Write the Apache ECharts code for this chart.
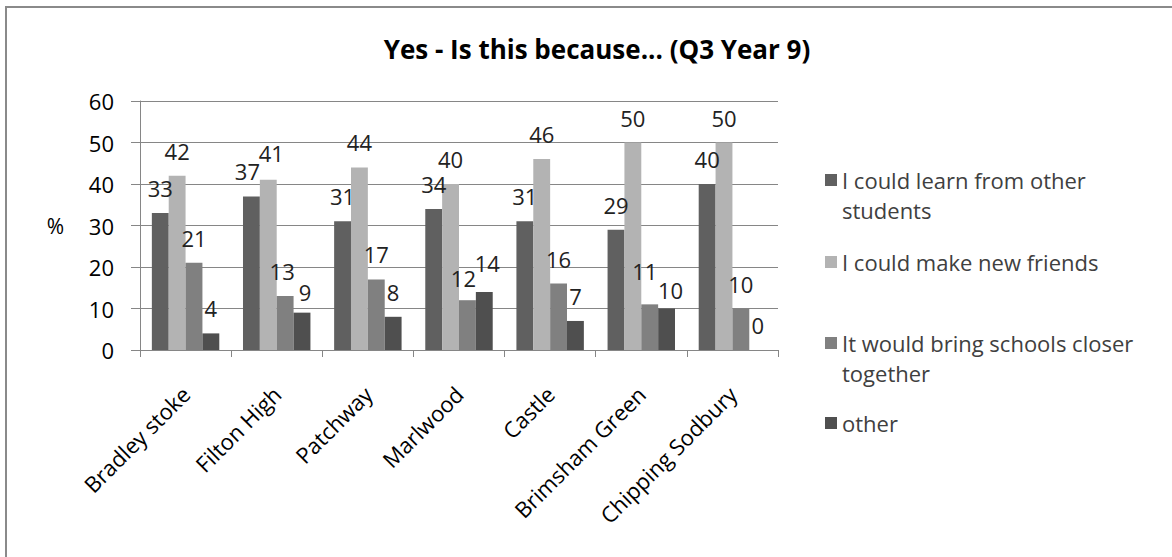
<!DOCTYPE html>
<html>
<head>
<meta charset="utf-8">
<script src="https://cdn.jsdelivr.net/npm/echarts@6/dist/echarts.min.js"></script>
<style>
  html, body { margin: 0; padding: 0; background: #fff; }
  #chart { width: 1172px; height: 557px; }
</style>
</head>
<body>
<div id="chart"></div>
<script>
// Yes - Is this because... (Q3 Year 9)
const schools = ["Bradley stoke", "Filton High", "Patchway", "Marlwood", "Castle", "Brimsham Green", "Chipping Sodbury"];
const seriesNames = ["I could learn from other students", "I could make new friends", "It would bring schools closer together", "other"];
const legendLines = ["I could learn from other\nstudents", "I could make new friends", "It would bring schools closer\ntogether", "other"];
const learnFromOthers = [33, 37, 31, 34, 31, 29, 40];
const newFriends = [42, 41, 44, 40, 46, 50, 50];
const schoolsCloser = [21, 13, 17, 12, 16, 11, 10];
const other = [4, 9, 8, 14, 7, 10, 0];
const yTicks = [0, 10, 20, 30, 40, 50, 60];

const colors = ["#606060", "#b3b3b3", "#808080", "#4f4f4f"];
const font = "'Open Sans', Lato, sans-serif";
const values = [learnFromOthers, newFriends, schoolsCloser, other];

// petits decalages d'etiquettes (serie, categorie) comme dans l'original Excel
const labelNudges = {
  "0-1": [-4, 0], "1-1": [3, -2],
  "2-1": [-3, 0], "3-1": [3, 4],
  "2-3": [-4, 3], "3-3": [3, -4],
  "2-5": [-5, -8], "3-5": [4, 6]
};

const chart = echarts.init(document.getElementById("chart"), null, { renderer: "svg" });

// un bloc de legende par serie, pour garder le carre sur la premiere ligne
const legendTops = [130, 242, 293, 403];
const legends = seriesNames.map((name, i) => {
  const multi = legendLines[i].includes("\n");
  return {
    orient: "vertical",
    left: 820,
    top: legendTops[i],
    itemWidth: 12,
    itemHeight: 12,
    itemGap: 0,
    icon: "rect",
    selectedMode: false,
    data: [name],
    formatter: () => (multi ? "\n" + legendLines[i] : legendLines[i]),
    textStyle: { fontFamily: font, fontSize: 22, color: "#404040", lineHeight: 30 }
  };
});

chart.setOption({
  animation: false,
  color: colors,
  title: {
    text: "Yes - Is this because... (Q3 Year 9)",
    left: 592,
    top: 31,
    textAlign: "center",
    textStyle: { fontFamily: font, fontSize: 26, fontWeight: "bold", color: "#000" }
  },
  graphic: [{
    type: "rect",
    silent: true,
    shape: { x: 6, y: 7, width: 1400, height: 800 },
    style: { fill: "none", stroke: "#8a8a8a", lineWidth: 2 }
  }],
  legend: legends,
  grid: { left: 140, right: 394, top: 101, bottom: 207 },
  xAxis: {
    type: "category",
    data: schools,
    axisLine: { lineStyle: { color: "#868686" } },
    axisTick: { show: true, length: 7, lineStyle: { color: "#868686" } },
    axisLabel: { rotate: 45, margin: 40, interval: 0, fontFamily: font, fontSize: 22, color: "#000" }
  },
  yAxis: {
    type: "value",
    min: yTicks[0],
    max: yTicks[yTicks.length - 1],
    interval: 10,
    name: "%",
    nameLocation: "middle",
    nameRotate: 0,
    nameGap: 76,
    nameTextStyle: { fontFamily: font, fontSize: 21, color: "#000" },
    axisLine: { show: true, lineStyle: { color: "#868686" } },
    axisTick: { show: true, length: 9, lineStyle: { color: "#868686" } },
    splitLine: { lineStyle: { color: "#868686" } },
    axisLabel: { margin: 26, fontFamily: font, fontSize: 22, color: "#000" }
  },
  series: values.map((vals, i) => ({
    name: seriesNames[i],
    type: "bar",
    barGap: "0%",
    barCategoryGap: "26%",
    data: vals.map((v, j) => {
      const nudge = labelNudges[i + "-" + j];
      return nudge ? { value: v, label: { offset: nudge } } : v;
    }),
    label: {
      show: true,
      position: "top",
      distance: 14,
      fontFamily: font,
      fontSize: 22,
      color: "#222"
    }
  }))
});
</script>
</body>
</html>
